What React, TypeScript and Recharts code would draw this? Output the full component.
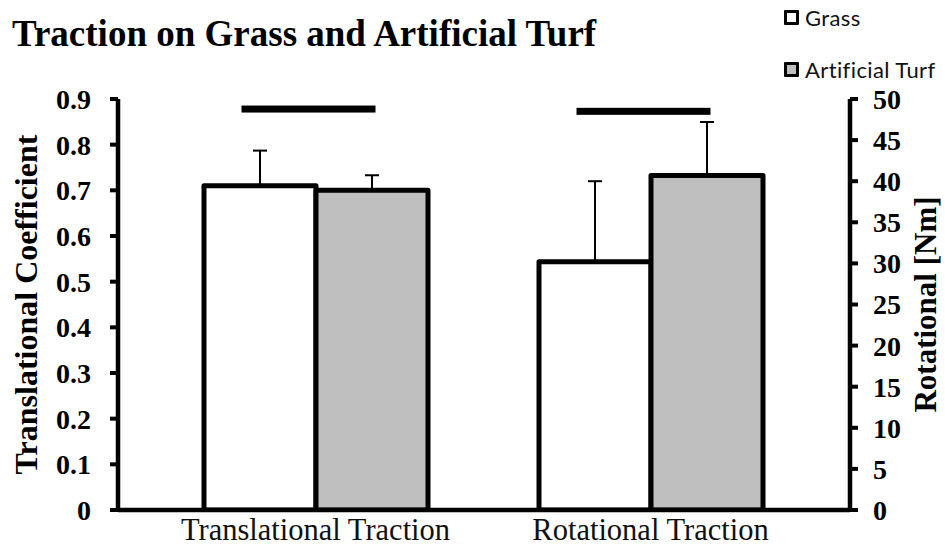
import React from 'react';
import { ComposedChart, Bar, ErrorBar, Scatter, XAxis, YAxis, Label } from 'recharts';

// first value belongs to the left axis (coefficient), second to the right axis (Nm)
const categories = ['Translational Traction', 'Rotational Traction'];
const grassValues = [0.71, 30.2];
const turfValues = [0.7, 40.7];
const grassErrors = [0.077, 9.8];
const turfErrors = [0.033, 6.5];
const sigLevels = [0.878, 0.873];

const leftTicks = [0, 0.1, 0.2, 0.3, 0.4, 0.5, 0.6, 0.7, 0.8, 0.9];
const rightTicks = [0, 5, 10, 15, 20, 25, 30, 35, 40, 45, 50];

const serif = '"Liberation Serif", "Times New Roman", serif';
const GRAY = '#bfbfbf';

const data = categories.map((name, i) => ({
  name,
  grassT: i === 0 ? grassValues[i] : undefined,
  turfT: i === 0 ? turfValues[i] : undefined,
  grassR: i === 1 ? grassValues[i] : undefined,
  turfR: i === 1 ? turfValues[i] : undefined,
  grassTErr: i === 0 ? [0, grassErrors[i]] : undefined,
  turfTErr: i === 0 ? [0, turfErrors[i]] : undefined,
  grassRErr: i === 1 ? [0, grassErrors[i]] : undefined,
  turfRErr: i === 1 ? [0, turfErrors[i]] : undefined,
  sig: sigLevels[i],
}));

const SigBar = (props: any) => {
  const { cx, cy } = props;
  if (cx == null || cy == null) return null;
  return <rect x={cx - 74} y={cy - 3.5} width={134} height={7} fill="#000" />;
};

const LegendBox = ({ fill, label }: { fill: string; label: string }) => (
  <div style={{ display: 'flex', alignItems: 'center', height: 26 }}>
    <div
      style={{
        width: 9,
        height: 9,
        border: '3px solid #000',
        borderRadius: 1,
        background: fill,
        marginRight: 6,
      }}
    />
    <span style={{ fontFamily: 'Lato, sans-serif', fontSize: 22, color: '#111', letterSpacing: 0.4 }}>{label}</span>
  </div>
);

const barProps = {
  stroke: '#000',
  strokeWidth: 5,
  strokeLinejoin: 'round' as const,
  isAnimationActive: false,
};

const errProps = {
  width: 7,
  stroke: '#000',
  strokeWidth: 2,
  direction: 'y' as const,
};

export default function App() {
  return (
    <div
      style={{
        position: 'fixed',
        left: 0,
        top: 0,
        width: 945,
        height: 548,
        background: '#fff',
        overflow: 'hidden',
      }}
    >
      <div
        style={{
          position: 'absolute',
          left: 12,
          top: 15,
          fontFamily: serif,
          fontWeight: 'bold',
          fontSize: 37,
          lineHeight: 1,
          whiteSpace: 'nowrap',
          color: '#000',
        }}
      >
        Traction on Grass and Artificial Turf
      </div>

      <div style={{ position: 'absolute', left: 784, top: 4 }}>
        <LegendBox fill="#fff" label="Grass" />
        <div style={{ height: 26 }} />
        <LegendBox fill={GRAY} label="Artificial Turf" />
      </div>

      <ComposedChart
        width={945}
        height={548}
        data={data}
        margin={{ top: 99, right: 0, bottom: 0, left: 0 }}
        barGap={0}
        barSize={112}
        style={{ position: 'absolute', left: 0, top: 0 }}
      >
        <XAxis
          dataKey="name"
          height={38}
          padding={{ left: 30, right: 32 }}
          axisLine={{ stroke: '#000', strokeWidth: 4.5 }}
          tickLine={false}
          tickSize={0}
          tickMargin={8}
          tick={{ fill: '#111', fontSize: 30.5, fontFamily: serif }}
        />
        <YAxis
          yAxisId="left"
          width={118}
          domain={[0, 0.9]}
          ticks={leftTicks}
          interval={0}
          allowDataOverflow
          axisLine={{ stroke: '#000', strokeWidth: 4.5 }}
          tickLine={{ stroke: '#000', strokeWidth: 4 }}
          tickSize={8}
          tickMargin={19}
          tick={{ fill: '#000', fontSize: 28, fontWeight: 'bold', fontFamily: serif }}
        >
          <Label
            value="Translational Coefficient"
            angle={-90}
            position="insideLeft"
            offset={26}
            style={{ textAnchor: 'middle', fill: '#000', fontSize: 32, fontWeight: 'bold', fontFamily: serif }}
          />
        </YAxis>
        <YAxis
          yAxisId="right"
          orientation="right"
          width={95}
          domain={[0, 50]}
          ticks={rightTicks}
          interval={0}
          allowDataOverflow
          axisLine={{ stroke: '#000', strokeWidth: 4.5 }}
          tickLine={{ stroke: '#000', strokeWidth: 4 }}
          tickSize={8}
          tickMargin={15}
          tick={{ fill: '#000', fontSize: 28, fontWeight: 'bold', fontFamily: serif }}
        >
          <Label
            value="Rotational [Nm]"
            angle={-90}
            position="insideRight"
            offset={20}
            style={{ textAnchor: 'middle', fill: '#000', fontSize: 31, fontWeight: 'bold', fontFamily: serif }}
          />
        </YAxis>

        <Bar dataKey="grassT" yAxisId="left" stackId="grass" fill="#fff" {...barProps}>
          <ErrorBar dataKey="grassTErr" {...errProps} />
        </Bar>
        <Bar dataKey="grassR" yAxisId="right" stackId="grass" fill="#fff" {...barProps}>
          <ErrorBar dataKey="grassRErr" {...errProps} />
        </Bar>
        <Bar dataKey="turfT" yAxisId="left" stackId="turf" fill={GRAY} {...barProps}>
          <ErrorBar dataKey="turfTErr" {...errProps} />
        </Bar>
        <Bar dataKey="turfR" yAxisId="right" stackId="turf" fill={GRAY} {...barProps}>
          <ErrorBar dataKey="turfRErr" {...errProps} />
        </Bar>

        <Scatter dataKey="sig" yAxisId="left" shape={<SigBar />} isAnimationActive={false} />
      </ComposedChart>
    </div>
  );
}
